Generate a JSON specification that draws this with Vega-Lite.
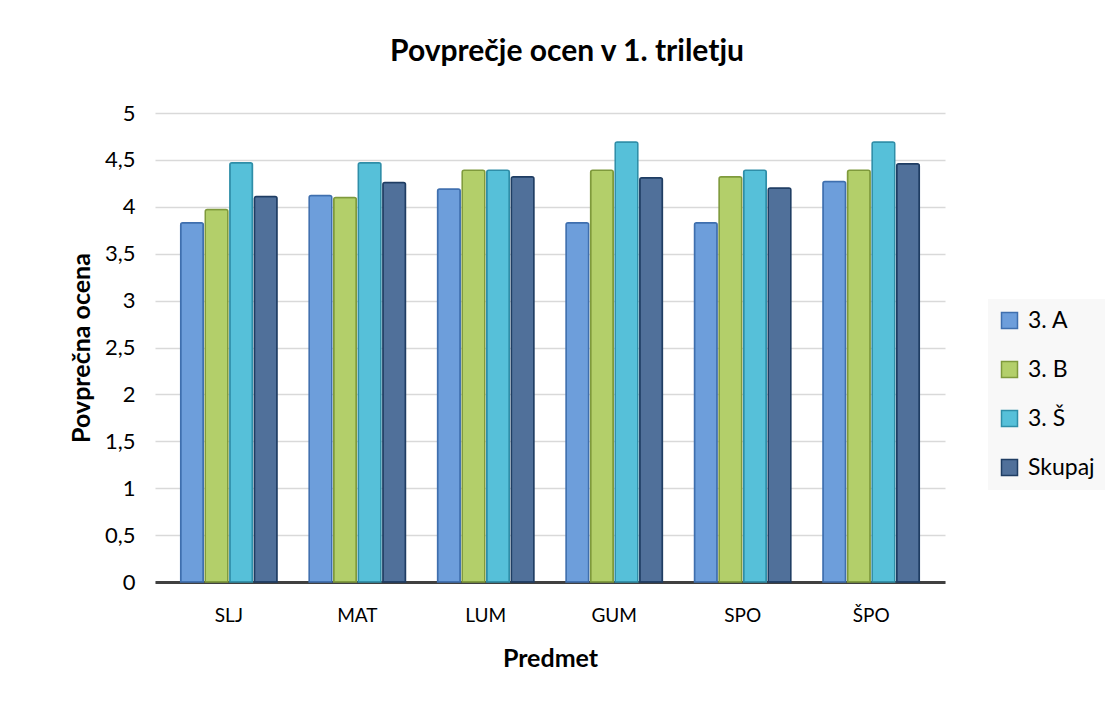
{
  "$schema": "https://vega.github.io/schema/vega-lite/v6.json",
  "autosize": "none",
  "width": 790,
  "height": 469,
  "padding": {"left": 155, "top": 113, "right": 171, "bottom": 140},
  "background": "#ffffff",
  "title": {
    "text": "Povprečje ocen v 1. triletju",
    "font": "Lato",
    "fontSize": 30,
    "fontWeight": "bold",
    "color": "#000000",
    "anchor": "middle",
    "dx": 17,
    "offset": 35
  },
  "data": {
    "values": [
      {"predmet": "SLJ", "razred": "3. A", "ocena": 3.83},
      {"predmet": "SLJ", "razred": "3. B", "ocena": 3.97},
      {"predmet": "SLJ", "razred": "3. Š", "ocena": 4.47},
      {"predmet": "SLJ", "razred": "Skupaj", "ocena": 4.11},
      {"predmet": "MAT", "razred": "3. A", "ocena": 4.12},
      {"predmet": "MAT", "razred": "3. B", "ocena": 4.10},
      {"predmet": "MAT", "razred": "3. Š", "ocena": 4.47},
      {"predmet": "MAT", "razred": "Skupaj", "ocena": 4.26},
      {"predmet": "LUM", "razred": "3. A", "ocena": 4.19},
      {"predmet": "LUM", "razred": "3. B", "ocena": 4.39},
      {"predmet": "LUM", "razred": "3. Š", "ocena": 4.39},
      {"predmet": "LUM", "razred": "Skupaj", "ocena": 4.32},
      {"predmet": "GUM", "razred": "3. A", "ocena": 3.83},
      {"predmet": "GUM", "razred": "3. B", "ocena": 4.39},
      {"predmet": "GUM", "razred": "3. Š", "ocena": 4.69},
      {"predmet": "GUM", "razred": "Skupaj", "ocena": 4.31},
      {"predmet": "SPO", "razred": "3. A", "ocena": 3.83},
      {"predmet": "SPO", "razred": "3. B", "ocena": 4.32},
      {"predmet": "SPO", "razred": "3. Š", "ocena": 4.39},
      {"predmet": "SPO", "razred": "Skupaj", "ocena": 4.20},
      {"predmet": "ŠPO", "razred": "3. A", "ocena": 4.27},
      {"predmet": "ŠPO", "razred": "3. B", "ocena": 4.39},
      {"predmet": "ŠPO", "razred": "3. Š", "ocena": 4.69},
      {"predmet": "ŠPO", "razred": "Skupaj", "ocena": 4.46}
    ]
  },
  "mark": {"type": "bar", "strokeWidth": 1.5, "cornerRadiusTopLeft": 2, "cornerRadiusTopRight": 2},
  "encoding": {
    "x": {
      "field": "predmet",
      "type": "nominal",
      "sort": ["SLJ", "MAT", "LUM", "GUM", "SPO", "ŠPO"],
      "scale": {"paddingInner": 0.25, "paddingOuter": 0.2},
      "axis": {
        "title": "Predmet",
        "titleFont": "Lato",
        "titleFontSize": 25,
        "titleFontWeight": "bold",
        "titleColor": "#000000",
        "titlePadding": 21,
        "labelFont": "Lato",
        "labelFontSize": 19,
        "labelColor": "#000000",
        "labelAngle": 0,
        "labelPadding": 24,
        "ticks": false,
        "domainColor": "#404040",
        "domainWidth": 3,
        "grid": false
      }
    },
    "xOffset": {
      "field": "razred",
      "type": "nominal",
      "sort": ["3. A", "3. B", "3. Š", "Skupaj"],
      "scale": {"paddingInner": 0.08}
    },
    "y": {
      "field": "ocena",
      "type": "quantitative",
      "scale": {"domain": [0, 5]},
      "axis": {
        "title": "Povprečna ocena",
        "titleFont": "Lato",
        "titleFontSize": 25,
        "titleFontWeight": "bold",
        "titleColor": "#000000",
        "titlePadding": 10,
        "values": [0, 0.5, 1, 1.5, 2, 2.5, 3, 3.5, 4, 4.5, 5],
        "labelExpr": "replace(toString(datum.value), '.', ',')",
        "labelFont": "Lato",
        "labelFontSize": 22,
        "labelColor": "#000000",
        "labelPadding": 20,
        "ticks": false,
        "domain": false,
        "grid": true,
        "gridColor": "#d9d9d9",
        "gridWidth": 1.5
      }
    },
    "color": {
      "field": "razred",
      "type": "nominal",
      "sort": ["3. A", "3. B", "3. Š", "Skupaj"],
      "scale": {
        "domain": ["3. A", "3. B", "3. Š", "Skupaj"],
        "range": ["#6d9edb", "#b3cf6a", "#56c0d9", "#50709a"]
      },
      "legend": {
        "title": null,
        "orient": "none",
        "legendX": 833,
        "legendY": 186,
        "symbolType": "square",
        "symbolSize": 256,
        "symbolStrokeWidth": 1.5,
        "labelFont": "Lato",
        "labelFontSize": 23,
        "labelColor": "#000000",
        "labelOffset": 7,
        "rowPadding": 25,
        "padding": 10,
        "fillColor": "#f8f8f8"
      }
    },
    "stroke": {
      "field": "razred",
      "type": "nominal",
      "sort": ["3. A", "3. B", "3. Š", "Skupaj"],
      "scale": {
        "domain": ["3. A", "3. B", "3. Š", "Skupaj"],
        "range": ["#3f6fae", "#7f9a3c", "#2f8ea8", "#1f3d63"]
      },
      "legend": null
    }
  },
  "config": {
    "view": {"stroke": null},
    "axis": {"labelFontWeight": "normal"}
  }
}
